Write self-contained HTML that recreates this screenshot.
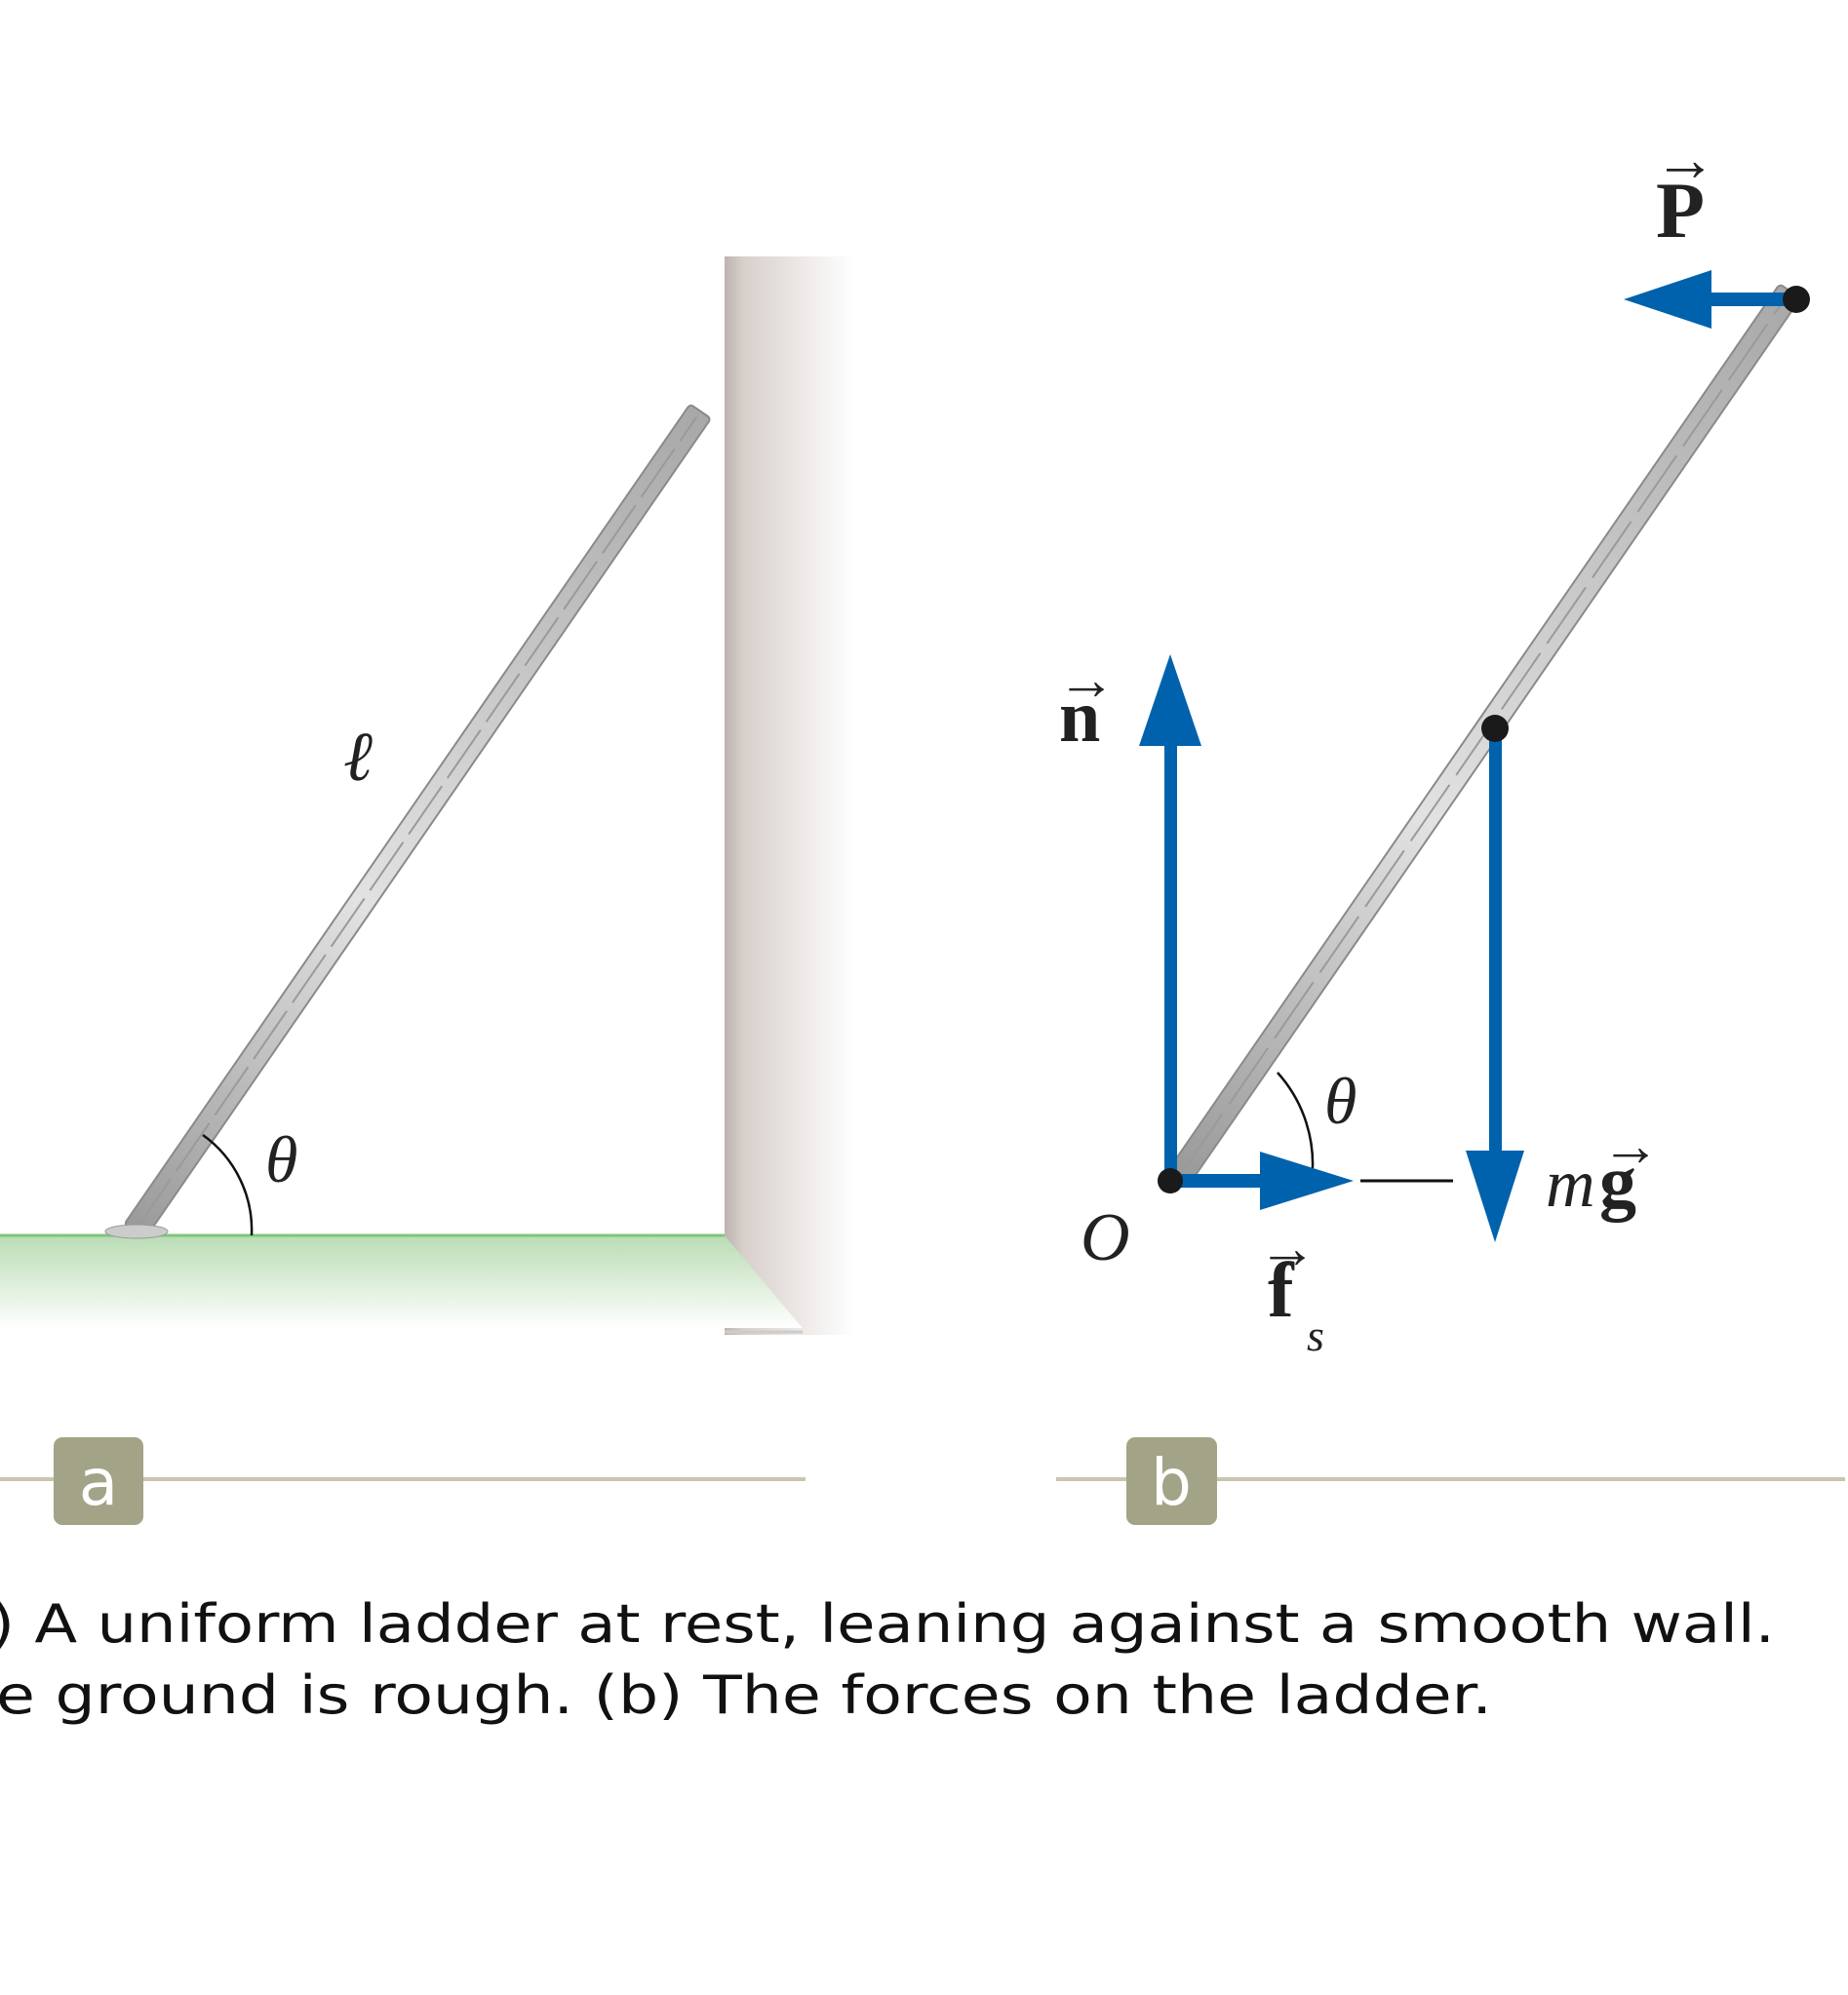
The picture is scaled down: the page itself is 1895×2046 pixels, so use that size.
<!DOCTYPE html>
<html><head><meta charset="utf-8"><style>html,body{margin:0;padding:0;background:#fff}svg{display:block}</style></head>
<body>
<svg width="1895" height="2046" viewBox="0 0 1895 2046" xmlns="http://www.w3.org/2000/svg">
<defs>
<linearGradient id="wall" x1="0" x2="1" y1="0" y2="0">
<stop offset="0" stop-color="#bdb3ae"/><stop offset="0.15" stop-color="#d8d0cc"/><stop offset="1" stop-color="#fff"/></linearGradient>
<linearGradient id="grass" x1="0" x2="0" y1="0" y2="1">
<stop offset="0" stop-color="#b9dcb4"/><stop offset="1" stop-color="#fff"/></linearGradient>
<linearGradient id="lad" x1="0" x2="1" y1="0" y2="0">
<stop offset="0" stop-color="#9a9a9a"/><stop offset="0.4" stop-color="#e2e2e2"/><stop offset="1" stop-color="#a8a8a8"/></linearGradient>
</defs>
<rect x="743" y="263" width="132" height="1106" fill="url(#wall)"/>
<polygon points="0,1267 743,1267 823,1362 0,1362" fill="url(#grass)"/>
<polygon points="743,1267 823,1362 875,1362 875,1267" fill="url(#wall)"/>
<line x1="0" y1="1267" x2="743" y2="1267" stroke="#7cc77a" stroke-width="3"/>
<line x1="743" y1="1366" x2="823" y2="1366" stroke="#ccc" stroke-width="3"/>
<g transform="translate(138,1263) rotate(-55.4)">
<rect x="0" y="-13" width="1022" height="26" rx="4" fill="url(#lad)" stroke="#8a8a8a" stroke-width="2"/>
<line x1="5" y1="0" x2="1015" y2="0" stroke="#9a9a9a" stroke-width="2" stroke-dasharray="60 10"/>
</g>
<ellipse cx="140" cy="1263" rx="32" ry="7" fill="#ccc" stroke="#999"/>
<path d="M 208 1164 A 120 120 0 0 1 258 1267" fill="none" stroke="#111" stroke-width="2.5"/>
<text x="352" y="800" font-family="Liberation Serif, serif" font-style="italic" font-size="72" fill="#222">ℓ</text>
<text x="272" y="1212" font-family="Liberation Serif, serif" font-style="italic" font-size="68" fill="#222">θ</text>
<g transform="translate(1211,1204) rotate(-55.4)">
<rect x="0" y="-13" width="1100" height="26" rx="4" fill="url(#lad)" stroke="#8a8a8a" stroke-width="2"/>
<line x1="5" y1="0" x2="1095" y2="0" stroke="#9a9a9a" stroke-width="2" stroke-dasharray="70 12"/>
</g>
<path d="M 1310 1100 A 140 140 0 0 1 1345 1211" fill="none" stroke="#111" stroke-width="2.5"/>
<text x="1358" y="1152" font-family="Liberation Serif, serif" font-style="italic" font-size="68" fill="#222">θ</text>
<g fill="#0062ad">
<rect x="1194" y="740" width="13" height="472"/>
<polygon points="1200,671 1168,765 1232,765"/>
<rect x="1527" y="747" width="13" height="440"/>
<polygon points="1533,1274 1503,1180 1563,1180"/>
<rect x="1200" y="1204" width="110" height="14"/>
<polygon points="1388,1211 1292,1181 1292,1241"/>
<rect x="1740" y="300" width="102" height="14"/>
<polygon points="1665,307 1755,277 1755,337"/>
</g>
<line x1="1395" y1="1211" x2="1490" y2="1211" stroke="#111" stroke-width="3"/>
<circle cx="1200" cy="1211" r="13" fill="#1a1a1a"/>
<circle cx="1533" cy="747" r="14" fill="#1a1a1a"/>
<circle cx="1842" cy="307" r="14" fill="#1a1a1a"/>
<g font-family="Liberation Serif, serif" fill="#222">
<text x="1698" y="243" font-size="82" font-weight="bold">P</text>
<text x="1696" y="185" font-size="64">→</text>
<text x="1086" y="760" font-size="76" font-weight="bold">n</text>
<text x="1084" y="717" font-size="60">→</text>
<text x="1108" y="1292" font-size="70" font-style="italic">O</text>
<text x="1300" y="1350" font-size="80" font-weight="bold">f</text>
<text x="1340" y="1385" font-size="46" font-style="italic">s</text>
<text x="1290" y="1300" font-size="60">→</text>
<text x="1585" y="1237" font-size="70" font-style="italic">m</text>
<text x="1640" y="1237" font-size="76" font-weight="bold">g</text>
<text x="1642" y="1195" font-size="60">→</text>
</g>
<line x1="0" y1="1517" x2="826" y2="1517" stroke="#c8c6ae" stroke-width="4"/>
<line x1="1083" y1="1517" x2="1892" y2="1517" stroke="#c8c6ae" stroke-width="4"/>
<rect x="55" y="1474" width="92" height="90" rx="9" fill="#a3a388"/>
<rect x="1155" y="1474" width="93" height="90" rx="9" fill="#a3a388"/>
<g font-family="DejaVu Sans, sans-serif" font-size="66" fill="#fff" text-anchor="middle">
<text x="101" y="1543">a</text>
<text x="1201" y="1543">b</text>
</g>
<g font-family="DejaVu Sans, sans-serif" font-size="54" fill="#111">
<text x="-10" y="1684" textLength="1830" lengthAdjust="spacingAndGlyphs">) A uniform ladder at rest, leaning against a smooth wall.</text>
<text x="-4" y="1757" textLength="1534" lengthAdjust="spacingAndGlyphs">e ground is rough. (b) The forces on the ladder.</text>
</g>
</svg>
</body></html>
